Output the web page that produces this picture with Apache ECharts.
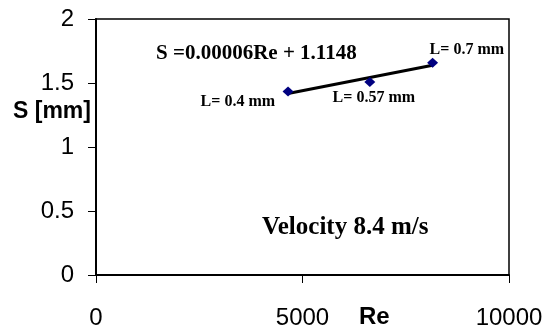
<!DOCTYPE html>
<html>
<head>
<meta charset="utf-8">
<script src="https://cdn.jsdelivr.net/npm/echarts@6/dist/echarts.min.js"></script>
<style>
  html, body { margin: 0; padding: 0; background: #fff; }
  #chart { width: 553px; height: 332px; }
</style>
</head>
<body>
<div id="chart"></div>
<script>
// measured points (Re, S)
const reValues = [4650, 6630, 8150]
const sValues = [1.434, 1.508, 1.659]
const pointLabels = ['L= 0.4 mm', 'L= 0.57 mm', 'L= 0.7 mm']
const xTicks = [0, 5000, 10000]
const yTicks = [0, 0.5, 1, 1.5, 2]
const equationText = 'S =0.00006Re + 1.1148'
const noteText = 'Velocity 8.4 m/s'

// linear trendline through the points (least squares)
const n = reValues.length
const mx = reValues.reduce((a, b) => a + b, 0) / n
const my = sValues.reduce((a, b) => a + b, 0) / n
let sxy = 0, sxx = 0
for (let i = 0; i < n; i++) {
  sxy += (reValues[i] - mx) * (sValues[i] - my)
  sxx += (reValues[i] - mx) * (reValues[i] - mx)
}
const slope = sxy / sxx
const icept = my - slope * mx
const xMin = Math.min(...reValues)
const xMax = Math.max(...reValues)
const trend = [[xMin, icept + slope * xMin], [xMax, icept + slope * xMax]]

// label placement per point
const labelPos = [
  { align: 'right', offset: [-13, 10] },
  { align: 'center', offset: [4, 16] },
  { align: 'left', offset: [-3, -13] },
]

const serif = "'Liberation Serif', 'Times New Roman', serif"
const sans = "'Liberation Sans', Arial, sans-serif"

let mychart = echarts.init(document.getElementById('chart'))
mychart.setOption({
  animation: false,
  grid: {
    left: 96,
    right: 44,
    top: 19,
    bottom: 57,
    show: true,
    borderColor: '#000',
    borderWidth: 1.5,
  },
  xAxis: {
    type: 'value',
    min: xTicks[0],
    max: xTicks[xTicks.length - 1],
    interval: xTicks[1] - xTicks[0],
    axisLine: { show: true, lineStyle: { color: '#000', width: 2 } },
    axisTick: { show: true, length: 8, lineStyle: { color: '#000', width: 1 } },
    splitLine: { show: false },
    axisLabel: {
      color: '#000', fontFamily: sans, fontSize: 24, margin: 31,
      formatter: (v) => String(v),
    },
  },
  yAxis: {
    type: 'value',
    min: yTicks[0],
    max: yTicks[yTicks.length - 1],
    interval: yTicks[1] - yTicks[0],
    axisLine: { show: true, lineStyle: { color: '#000', width: 2 } },
    axisTick: { show: true, length: 8, lineStyle: { color: '#000', width: 1 } },
    splitLine: { show: false },
    axisLabel: { color: '#000', fontFamily: sans, fontSize: 24, margin: 22 },
  },
  graphic: [
    {
      type: 'text', left: 13, top: 100,
      style: { text: 'S [mm]', font: 'bold 23px ' + sans, fill: '#000' },
    },
    {
      type: 'text', left: 359, top: 305,
      style: { text: 'Re', font: 'bold 24px ' + sans, fill: '#000' },
    },
    {
      type: 'text', left: 156, top: 43,
      style: { text: equationText, font: 'bold 21px ' + serif, fill: '#000' },
    },
    {
      type: 'text', left: 262, top: 215,
      style: { text: noteText, font: 'bold 25px ' + serif, fill: '#000' },
    },
  ],
  series: [
    {
      type: 'line',
      data: trend,
      symbol: 'none',
      lineStyle: { color: '#000', width: 3 },
      z: 2,
    },
    {
      type: 'scatter',
      symbol: 'diamond',
      symbolSize: [11, 10],
      itemStyle: { color: '#000080', opacity: 1 },
      z: 3,
      label: {
        show: true,
        position: 'inside',
        color: '#000',
        textBorderWidth: 0,
        fontFamily: serif,
        fontWeight: 'bold',
        fontSize: 16,
      },
      data: reValues.map((x, i) => ({
        value: [x, sValues[i]],
        label: {
          formatter: pointLabels[i],
          align: labelPos[i].align,
          verticalAlign: 'middle',
          offset: labelPos[i].offset,
        },
      })),
    },
  ],
})
</script>
</body>
</html>
